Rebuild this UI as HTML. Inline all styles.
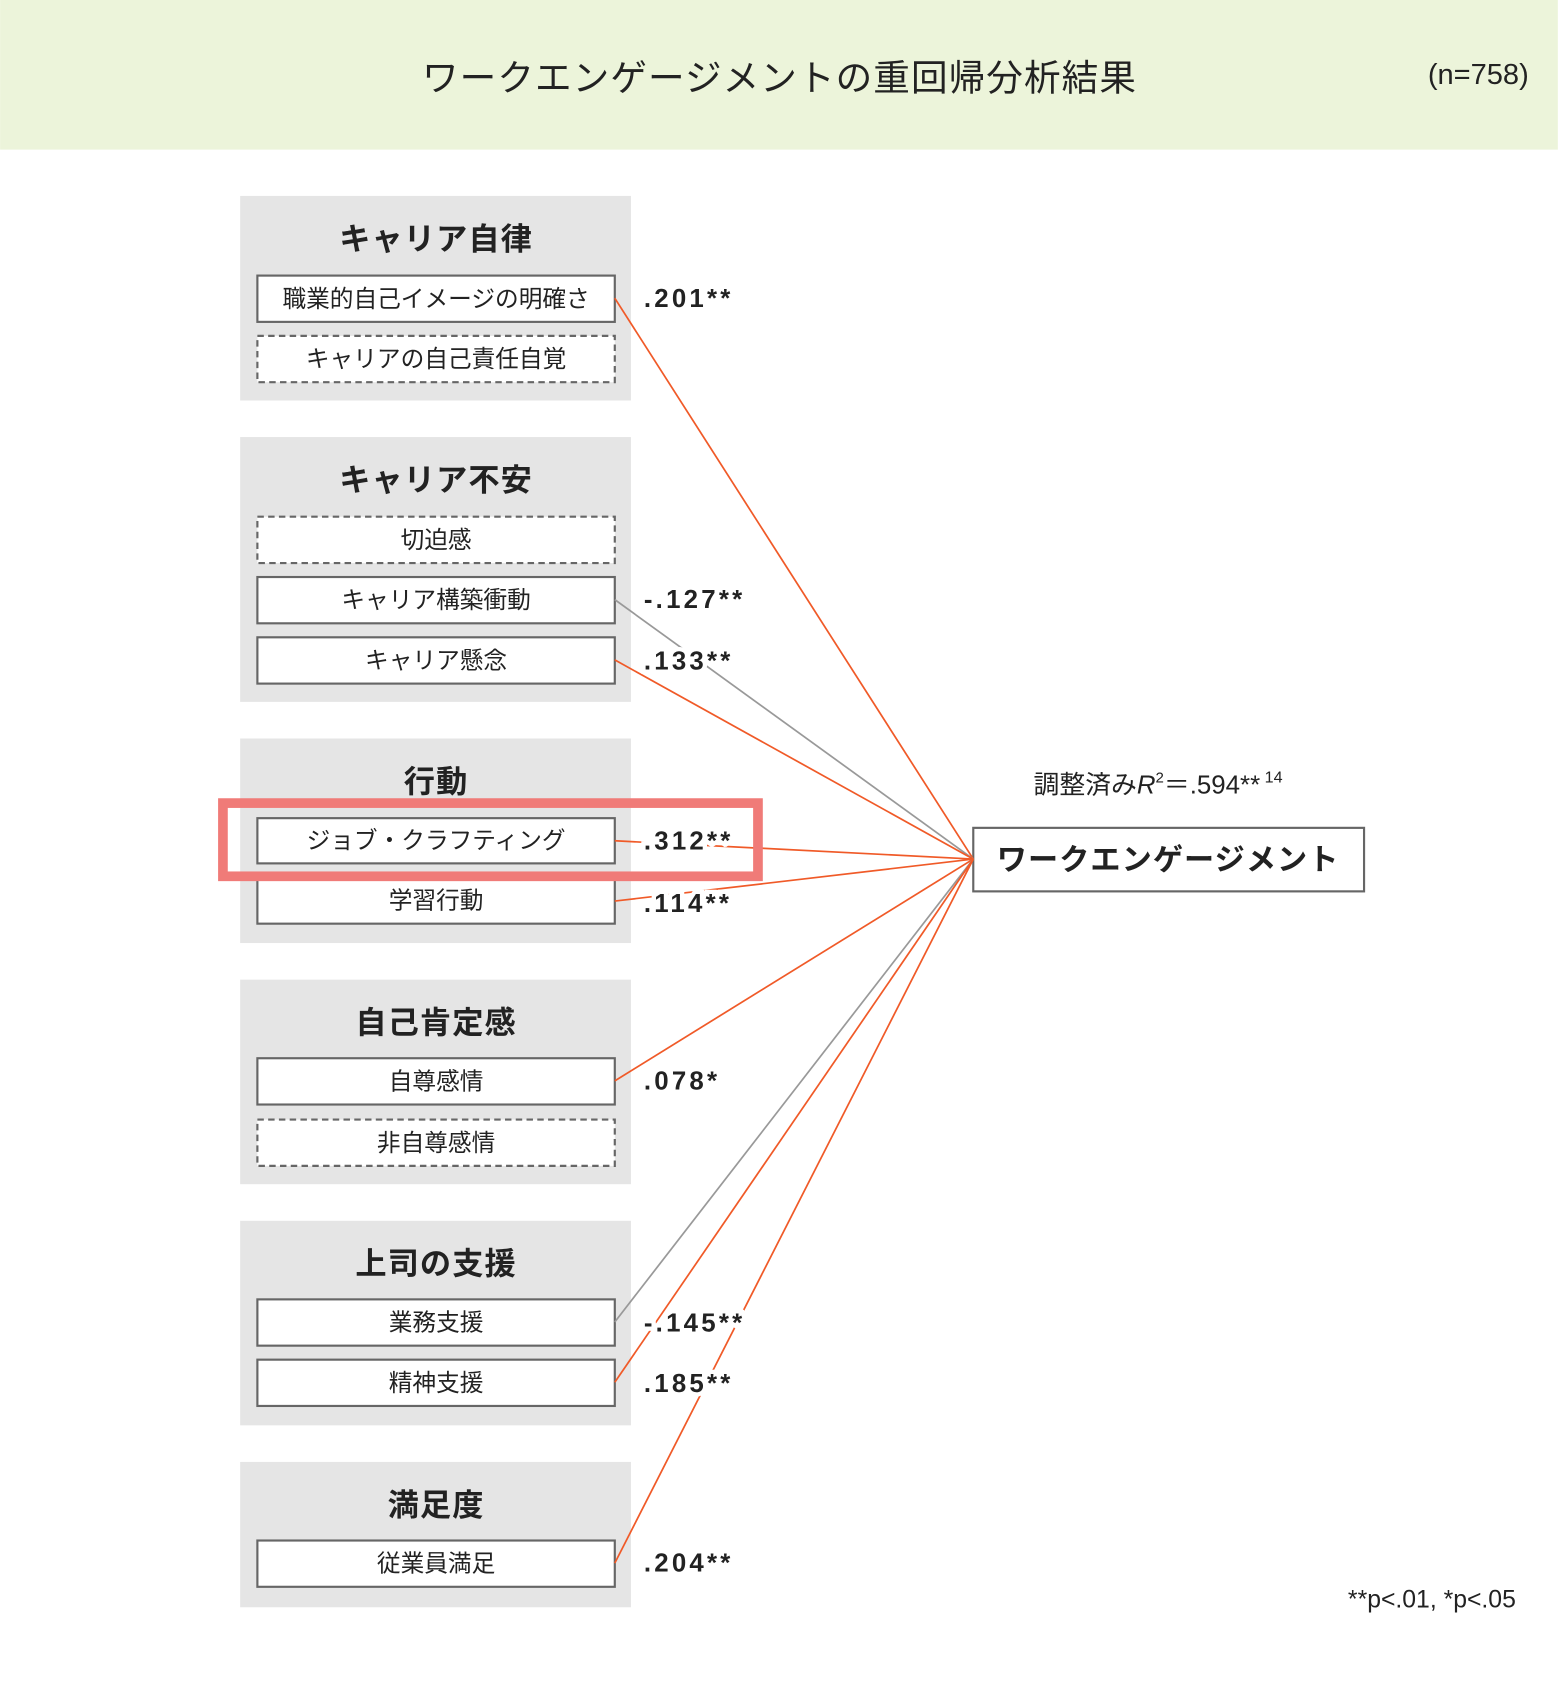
<!DOCTYPE html>
<html><head><meta charset="utf-8"><style>
html,body{margin:0;padding:0;background:#fff}
svg{display:block}
text{font-family:"Liberation Sans","Noto Sans CJK JP",sans-serif;fill:#222}
.gt{font-size:29px;font-weight:bold;text-anchor:middle;letter-spacing:1px}
.bt{font-size:22px;text-anchor:middle}
.lb{font-size:24px;font-weight:bold;letter-spacing:3px;paint-order:stroke;stroke:#fff;stroke-width:8px}
</style></head><body>
<svg width="1559" height="1688" viewBox="0 0 1448 1568" xmlns="http://www.w3.org/2000/svg">
<rect x="0" y="0" width="1447" height="139" fill="#ecf4da"/>
<text x="724" y="84" font-size="34" text-anchor="middle" letter-spacing="1" fill="#333">ワークエンゲージメントの重回帰分析結果</text>
<text x="1420" y="78" font-size="27" text-anchor="end" fill="#333">(n=758)</text>

<g fill="#e5e5e5">
<rect x="223" y="182" width="363" height="190"/>
<rect x="223" y="406" width="363" height="246"/>
<rect x="223" y="686" width="363" height="190"/>
<rect x="223" y="910" width="363" height="190"/>
<rect x="223" y="1134" width="363" height="190"/>
<rect x="223" y="1358" width="363" height="135"/>
</g>
<text class="gt" x="405" y="232">キャリア自律</text>
<text class="gt" x="405" y="456">キャリア不安</text>
<text class="gt" x="405" y="736">行動</text>
<text class="gt" x="405" y="960">自己肯定感</text>
<text class="gt" x="405" y="1184">上司の支援</text>
<text class="gt" x="405" y="1408">満足度</text>

<g fill="#fff" stroke="#666" stroke-width="2">
<rect x="239" y="256" width="332" height="43"/>
<rect x="239" y="312" width="332" height="43" stroke-dasharray="6,4"/>
<rect x="239" y="480" width="332" height="43" stroke-dasharray="6,4"/>
<rect x="239" y="536" width="332" height="43"/>
<rect x="239" y="592" width="332" height="43"/>
<rect x="239" y="760" width="332" height="42"/>
<rect x="239" y="816" width="332" height="42"/>
<rect x="239" y="983" width="332" height="43"/>
<rect x="239" y="1040" width="332" height="43" stroke-dasharray="6,4"/>
<rect x="239" y="1207" width="332" height="43"/>
<rect x="239" y="1263" width="332" height="43"/>
<rect x="239" y="1431" width="332" height="43"/>
<rect x="904" y="769" width="363" height="59"/>
</g>
<text class="bt" x="405" y="285">職業的自己イメージの明確さ</text>
<text class="bt" x="405" y="341">キャリアの自己責任自覚</text>
<text class="bt" x="405" y="509">切迫感</text>
<text class="bt" x="405" y="565">キャリア構築衝動</text>
<text class="bt" x="405" y="621">キャリア懸念</text>
<text class="bt" x="405" y="788">ジョブ・クラフティング</text>
<text class="bt" x="405" y="844">学習行動</text>
<text class="bt" x="405" y="1012">自尊感情</text>
<text class="bt" x="405" y="1069">非自尊感情</text>
<text class="bt" x="405" y="1236">業務支援</text>
<text class="bt" x="405" y="1292">精神支援</text>
<text class="bt" x="405" y="1460">従業員満足</text>
<text x="1085" y="808" font-size="28" font-weight="bold" text-anchor="middle" letter-spacing="1">ワークエンゲージメント</text>
<text x="960" y="737" font-size="24">調整済み<tspan font-style="italic">R</tspan><tspan font-size="14" dy="-10">2</tspan><tspan dy="10">＝.594**</tspan><tspan font-size="15" dy="-10"> 14</tspan></text>
<text x="1408" y="1493" font-size="23" text-anchor="end">**p&lt;.01, *p&lt;.05</text>

<g stroke-width="1.6" fill="none">
<line x1="571" y1="277" x2="904" y2="798" stroke="#f05a28"/>
<line x1="571" y1="557" x2="904" y2="798" stroke="#999"/>
<line x1="571" y1="613" x2="904" y2="798" stroke="#f05a28"/>
<line x1="571" y1="781" x2="904" y2="798" stroke="#f05a28"/>
<line x1="571" y1="837" x2="904" y2="798" stroke="#f05a28"/>
<line x1="571" y1="1004" x2="904" y2="798" stroke="#f05a28"/>
<line x1="571" y1="1228" x2="904" y2="798" stroke="#999"/>
<line x1="571" y1="1284" x2="904" y2="798" stroke="#f05a28"/>
<line x1="571" y1="1452" x2="904" y2="798" stroke="#f05a28"/>
</g>
<text class="lb" x="598" y="285">.201**</text>
<text class="lb" x="598" y="565">-.127**</text>
<text class="lb" x="598" y="622">.133**</text>
<text class="lb" x="598" y="789">.312**</text>
<text class="lb" x="598" y="847">.114**</text>
<text class="lb" x="598" y="1012">.078*</text>
<text class="lb" x="598" y="1237">-.145**</text>
<text class="lb" x="598" y="1293">.185**</text>
<text class="lb" x="598" y="1460">.204**</text>
<rect x="207" y="746" width="497" height="68" fill="none" stroke="#f07b78" stroke-width="9"/>
</svg>
</body></html>
